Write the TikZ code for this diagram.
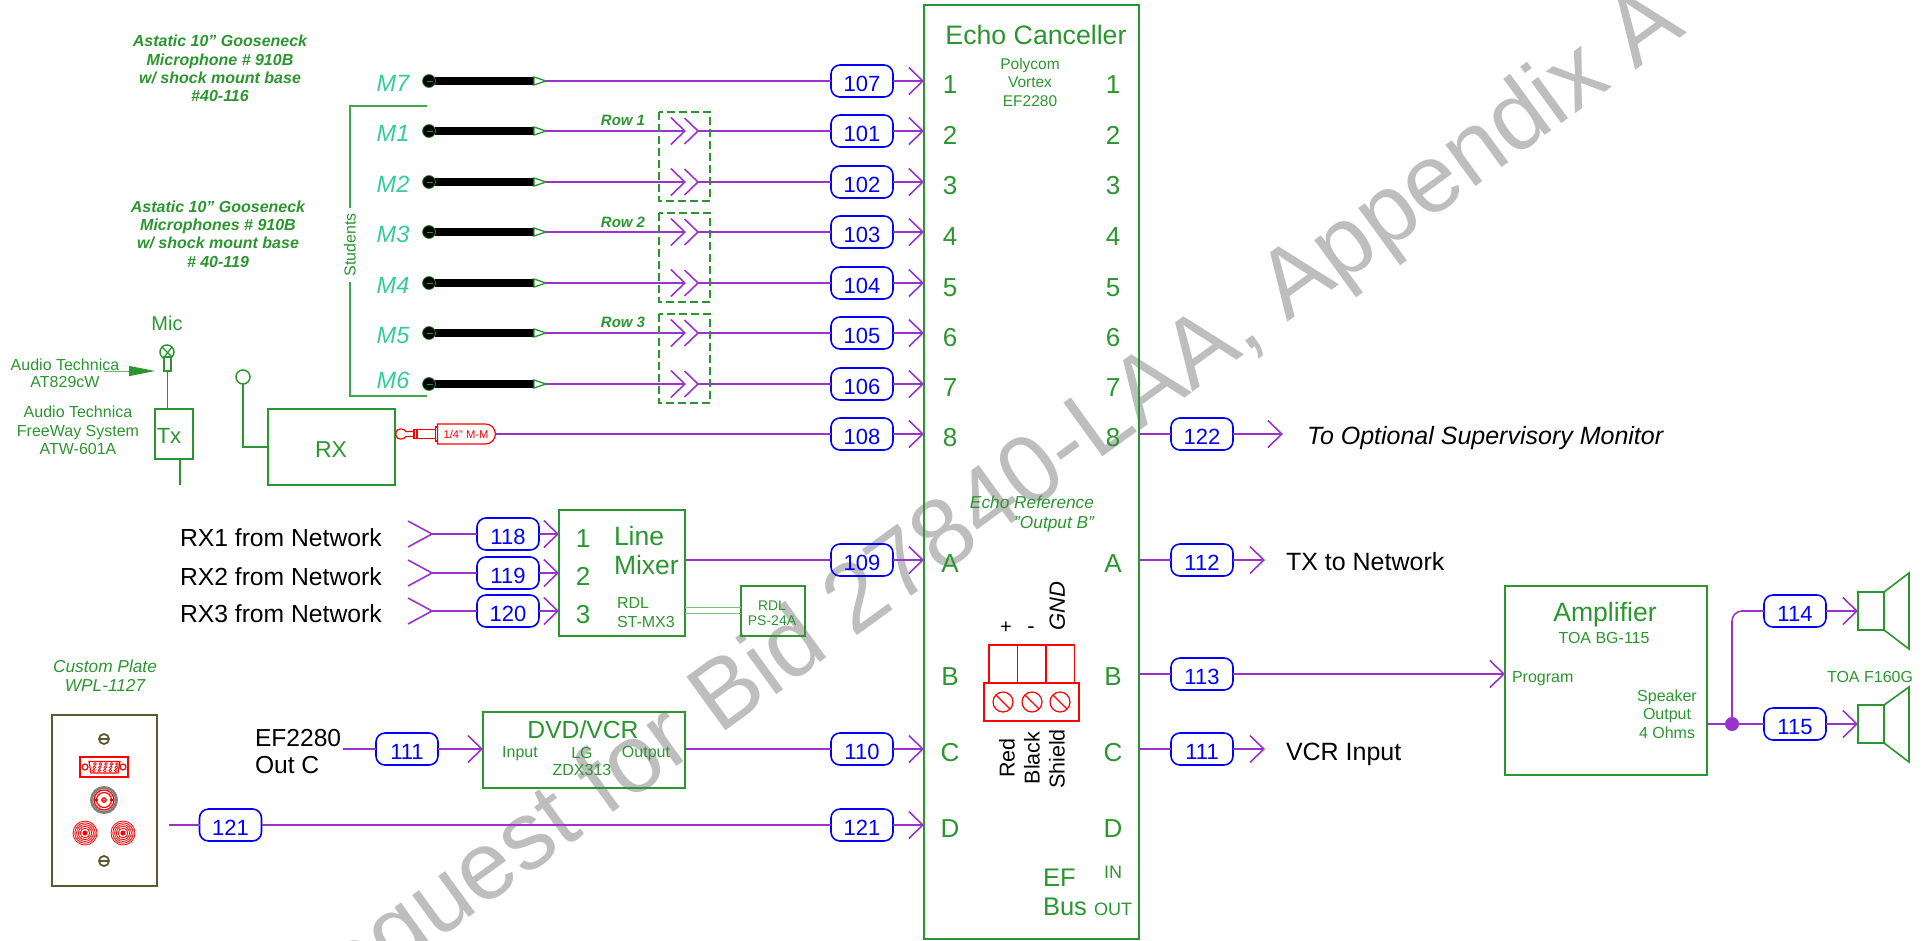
\documentclass[tikz,border=0pt]{standalone}
\usepackage{fontspec}
\setmainfont{Liberation Sans}
\usetikzlibrary{arrows.meta,shapes.misc}
\definecolor{grn}{HTML}{2B962F}
\definecolor{teal2}{HTML}{33CC99}
\definecolor{brk}{HTML}{3DA84D}
\definecolor{sigc}{HTML}{9933CC}
\definecolor{wm}{HTML}{BEBEBE}
\definecolor{olive2}{HTML}{5A5A32}
\newcommand\lab[6]{\node[txt,#2] (#1) at (#3,{#4+0.358*#5}) {\fontsize{#5}{#5}\selectfont #6};}
\newcommand\rlab[6]{\node[txt,rotate=90,#2] (#1) at ({#3+0.358*#5},#4) {\fontsize{#5}{#5}\selectfont #6};}
\newcommand\mlab[7]{\node[inner sep=0pt,outer sep=0pt,text=grn,align=center,anchor=center,font=\fontsize{#5}{#6}\selectfont,#2] (#1) at (#3,#4) {#7};}
\tikzset{
  txt/.style={inner sep=0pt,outer sep=0pt,anchor=base,text=grn},
  gbox/.style={draw=grn,line width=1.7pt,inner sep=0pt,outer sep=0pt},
  sig/.style={draw=sigc,line width=1.6pt},
  sigar/.style={sig,-{Straight Barb[length=14pt,width=27pt]}},
  tag/.style={draw=blue,line width=1.6pt,rounded corners=9pt,minimum width=62pt,minimum height=32pt,inner sep=0pt,outer sep=0pt,text=blue,text height=20.8pt,text depth=0pt,font=\fontsize{22}{22}\selectfont},
  micend/.style={circle,fill=black,draw=grn,line width=.7pt,minimum size=13pt,inner sep=0pt,outer sep=0pt},
  tiptri/.style={draw=grn,fill=white,line width=1.3pt},
  dbox/.style={draw=grn,line width=1.5pt,dash pattern=on 8pt off 4pt},
  rd/.style={draw=red,line width=1.2pt},
  ol/.style={draw=olive2,line width=1.8pt},
}
\begin{document}
\begin{tikzpicture}[x=1pt,y=-1pt]
\path[use as bounding box] (0,0) rectangle (1932,940);
\clip (0,0) rectangle (1932,940);
% watermark
\node[inner sep=0pt,anchor=base west,rotate=36,text=wm,font=\fontsize{96.5}{96.5}\selectfont] (wmark) at (294,1045) {Request for Bid 27840-LAA, Appendix A};

% main boxes
\node[gbox,minimum width=215pt,minimum height=934pt] (ec) at (1031.5,472) {};
\node[gbox,minimum width=202pt,minimum height=189pt] (amp) at (1606,680.5) {};
\node[gbox,minimum width=126pt,minimum height=126pt] (mix) at (622,573) {};
\node[gbox,minimum width=64pt,minimum height=50pt] (psu) at (773,611) {};
\node[gbox,minimum width=202pt,minimum height=76pt] (dvd) at (584,750) {};
\node[gbox,minimum width=38pt,minimum height=50pt] (tx) at (174,434) {};
\node[gbox,minimum width=127pt,minimum height=76pt] (rx) at (331.5,447) {};
\node[ol,minimum width=105pt,minimum height=171pt,inner sep=0pt,outer sep=0pt] (plate) at (104.5,800.5) {};

% titles
\lab{ectitle}{}{1036}{35}{26.7}{Echo Canceller}
\mlab{ecmodel}{}{1030}{82}{15.5}{18.5}{Polycom\\Vortex\\EF2280}
\lab{er1}{}{1032}{502}{17.3}{\itshape Echo Reference}
\lab{er2}{anchor=base east}{1094}{522}{17.3}{\itshape "Output B"}

% port numbers
\foreach \t/\y in {1/84,2/135,3/185,4/236,5/287,6/337,7/387,8/437,A/563,B/676,C/752,D/828}{
  \lab{pl\t}{}{950}{\y}{26}{\t}
  \lab{pr\t}{}{1113}{\y}{26}{\t}
}
\lab{efa}{anchor=base west}{1043}{877}{25.5}{EF}
\lab{efb}{anchor=base west}{1043}{906}{25.5}{Bus}
\lab{efin}{}{1113}{872}{18}{IN}
\lab{efout}{}{1113}{909}{18}{OUT}

% microphones
\foreach \n/\y/\tg/\tl in {m7/81/t107/107,m1/131/t101/101,m2/182/t102/102,m3/232/t103/103,m4/283/t104/104,m5/333/t105/105,m6/384/t106/106}{
  \node[tag] (\tg) at (862,\y) {\tl};
  \draw[sigar] (\tg) -- (\tg -| ec.west);
  \coordinate (\n b) at (534,\y);
  \coordinate (\n t) at (546,\y);
  \draw[line width=8pt,black] (429,\y) -- (\n b);
  \node[micend] (\n h) at (429,\y) {};
  \draw[draw=grn,line width=.8pt] (427,\y) -- (433,\y);
  \draw[tiptri] (534,\y-4) -- (\n t) -- (534,\y+4) -- cycle;
}
\lab{lm7}{text=teal2}{393}{83}{23.5}{\itshape M7}
\lab{lm1}{text=teal2}{393}{133}{23.5}{\itshape M1}
\lab{lm2}{text=teal2}{393}{184}{23.5}{\itshape M2}
\lab{lm3}{text=teal2}{393}{234}{23.5}{\itshape M3}
\lab{lm4}{text=teal2}{393}{285}{23.5}{\itshape M4}
\lab{lm5}{text=teal2}{393}{335}{23.5}{\itshape M5}
\lab{lm6}{text=teal2}{393}{380}{23.5}{\itshape M6}
\draw[sig] (m7t) -- (t107);
\foreach \n/\tg in {m1/t101,m2/t102,m3/t103,m4/t104,m5/t105,m6/t106}{
  \coordinate (\n x) at (686,0 |- \n t);
  \coordinate (\n y) at (698,0 |- \n t);
  \draw[sigar] (\n t) -- (\n t -| \n x);
  \draw[sig,line join=miter] ([shift={(-13.5,-13)}]\n t -| \n y) -- (\n t -| \n y) -- ([shift={(-13.5,13)}]\n t -| \n y);
  \draw[sig] (\n t -| \n y) -- (\tg);
}
% dashed pairs
\draw[dbox] (659,112) rectangle (710,201);
\draw[dbox] (659,213) rectangle (710,302);
\draw[dbox] (659,314) rectangle (710,403);
\lab{row1}{}{623}{120}{15}{\bfseries\itshape Row 1}
\lab{row2}{}{623}{222}{15}{\bfseries\itshape Row 2}
\lab{row3}{}{623}{322}{15}{\bfseries\itshape Row 3}

% students bracket
\coordinate (sa) at (427,106);
\coordinate (sb) at (427,396);
\draw[draw=brk,line width=1.3pt] (sa) -- (350,106) -- (350,396) -- (sb);
\node[fill=white,inner sep=5pt,outer sep=0pt,rotate=90,text=grn,font=\fontsize{16}{16}\selectfont] (stud) at (350,245) {Students};

% mic descriptions
\mlab{ast1}{font=\fontsize{16}{18.4}\selectfont\bfseries\itshape}{220}{68.5}{16}{18.4}{Astatic 10" Gooseneck\\Microphone \# 910B\\w/ shock mount base\\\#40-116}
\mlab{ast2}{font=\fontsize{16}{18.4}\selectfont\bfseries\itshape}{218}{234}{16}{18.4}{Astatic 10" Gooseneck\\Microphones \# 910B\\w/ shock mount base\\\# 40-119}

% wireless mic
\lab{mic}{}{167}{323}{20}{Mic}
\node[draw=grn,line width=1.5pt,circle,minimum size=14pt,inner sep=0pt,outer sep=0pt] (mich) at (167,352) {};
\draw[draw=grn,line width=1.3pt] (162,347) -- (172,357);
\draw[draw=grn,line width=1.3pt] (172,347) -- (165,356);
\node[draw=grn,line width=1.2pt,fill=white,minimum width=7pt,minimum height=14pt,inner sep=0pt,outer sep=0pt] (micb) at (167.5,364) {};
\draw[draw=grn,line width=1.6pt] (micb.south) -- (micb.south |- tx.north);
\coordinate (txo) at (180,485);
\draw[draw=grn,line width=1.6pt] (txo |- tx.south) -- (txo);
\lab{txl}{}{169}{436}{22}{Tx}
\lab{at1}{}{65}{365}{16}{Audio Technica}
\lab{at2}{}{65}{382}{16}{AT829cW}
\mlab{at3}{}{78}{430.5}{16}{18.5}{Audio Technica\\FreeWay System\\ATW-601A}
\coordinate (arra) at (104,371);
\coordinate (arrb) at (155,371);
\draw[draw=grn!70,line width=1pt,-{Triangle[length=26pt,width=10pt,color=grn]}] (arra) -- (arrb);

% RX
\node[draw=grn,line width=1.5pt,circle,minimum size=14pt,inner sep=0pt,outer sep=0pt] (ant) at (243,377) {};
\draw[draw=grn,line width=1.6pt] (ant) |- (rx.west |- 0,447);
\lab{rxl}{}{331}{449}{23}{RX}
% plug
\node[rd,rounded rectangle,rounded rectangle left arc=none,minimum width=58pt,minimum height=20pt,inner sep=0pt,outer sep=0pt,text=red,font=\fontsize{11.2}{11.2}\selectfont] (plug) at (466,434) {1/4" M-M};
\draw[rd] (plug.west) ++(1,-7) -- ++(-3,0) -- ++(0,14) -- ++(3,0);
\draw[rd] (436,429.5) -- (414,429.5) -- (414,438.5) -- (436,438.5);
\draw[rd] (417,429.5) -- (417,438.5);
\draw[rd] (414,431.5) -- (406,431.5) .. controls (404,428) and (397,428) .. (396,432) -- (396,436) .. controls (397,440) and (404,440) .. (406,436.5) -- (414,436.5);
\node[tag] (t108) at (862,434) {108};
\draw[sig] (plug) -- (t108);
\draw[sigar] (t108) -- (t108 -| ec.west);

% line mixer inputs
\foreach \tg/\tl/\y/\ty/\nn in {t118/118/534/538/1,t119/119/573/577/2,t120/120/611/614/3}{
  \node[tag] (\tg) at (508,\y) {\tl};
  \draw[sigar] (\tg) -- (\tg -| mix.west);
  \coordinate (c\tl) at (432,\y);
  \draw[sig] (c\tl) -- (\tg);
  \draw[sig] ([shift={(-24,-13)}]c\tl) -- (c\tl) -- ([shift={(-24,13)}]c\tl);
  \lab{rxn\nn}{text=black,anchor=base west}{180}{\ty}{24.7}{RX\nn\ from Network}
}
\lab{mx1}{}{583}{538}{26}{1}
\lab{mx2}{}{583}{576}{26}{2}
\lab{mx3}{}{583}{614}{26}{3}
\lab{mxa}{anchor=base west}{614}{536}{26.5}{Line}
\lab{mxb}{anchor=base west}{614}{565}{26.5}{Mixer}
\lab{mxc}{anchor=base west}{617}{603}{16}{RDL}
\lab{mxd}{anchor=base west}{617}{622}{16}{ST-MX3}
\node[tag] (t109) at (862,560) {109};
\draw[sig] (mix.east |- t109) -- (t109);
\draw[sigar] (t109) -- (t109 -| ec.west);
\draw[draw=grn!60,line width=1pt] (mix.east |- 0,607) -- (psu.west |- 0,607);
\draw[draw=grn!60,line width=1pt] (mix.east |- 0,613) -- (psu.west |- 0,613);
\lab{psa}{}{772}{605}{14}{RDL}
\lab{psb}{}{772}{620}{14}{PS-24A}

% DVD/VCR
\lab{eout1}{text=black,anchor=base west}{255}{738}{24.6}{EF2280}
\lab{eout2}{text=black,anchor=base west}{255}{765}{24.6}{Out C}
\coordinate (eo) at (343,749);
\node[tag] (t111a) at (407,749) {111};
\draw[sig] (eo) -- (t111a);
\draw[sigar] (t111a) -- (t111a -| dvd.west);
\lab{dv1}{}{583}{730}{24.7}{DVD/VCR}
\lab{dv2}{}{520}{752}{16}{Input}
\lab{dv3}{}{582}{753}{16}{LG}
\lab{dv4}{}{646}{752}{16}{Output}
\lab{dv5}{}{582}{770}{16}{ZDX313}
\node[tag] (t110) at (862,749) {110};
\draw[sig] (dvd.east |- t110) -- (t110);
\draw[sigar] (t110) -- (t110 -| ec.west);

% plate
\lab{cp1}{}{105}{666}{17.3}{\itshape Custom Plate}
\lab{cp2}{}{105}{685}{17.3}{\itshape WPL-1127}
\foreach \y in {739,861}{
  \draw[ol] (104,\y) circle[radius=5];
  \draw[ol] (99.5,\y) -- (108.5,\y);
}
\draw[rd] (80,757) rectangle (128,777);
\draw[rd] (89,761.5) -- (120,761.5) -- (118,773) -- (91,773) -- cycle;
\draw[rd] (85,767) circle[radius=3];
\draw[rd] (123,767) circle[radius=3];
\foreach \xx in {95,100.5,106,111.5,117}{
  \draw[draw=red,line width=.6pt] (\xx,764) circle[radius=1.4];
  \draw[draw=red,line width=.6pt] (\xx-.7,767.3) circle[radius=1.4];
  \draw[draw=red,line width=.6pt] (\xx-1.2,770.5) circle[radius=1.4];
}
\draw[draw=gray,line width=3pt] (104,800) circle[radius=12.5];
\draw[rd] (104,800) circle[radius=10];
\draw[rd] (104,800) circle[radius=7.5];
\draw[rd] (104,800) circle[radius=2.2];
\fill[red] (104,800) circle[radius=1];
\draw[rd] (94,800) -- (98,800);
\draw[rd] (110,800) -- (114,800);
\foreach \xx in {85,123}{
  \foreach \rr in {12,10.2,8.4,6.6,4.8}{\draw[draw=red,line width=.8pt] (\xx,833) circle[radius=\rr];}
  \fill[red] (\xx,833) circle[radius=2.6];
}
\coordinate (pl) at (169,825);
\node[tag] (t121a) at (230.5,825) {121};
\draw[sig] (pl) -- (t121a);
\node[tag] (t121b) at (862,825) {121};
\draw[sig] (t121a) -- (t121b);
\draw[sigar] (t121b) -- (t121b -| ec.west);

% terminal block
\draw[rd] (989,683) -- (989,645) -- (1074.6,645) -- (1074.6,683);
\draw[rd] (1017.5,645) -- (1017.5,683);
\draw[rd] (1046,645) -- (1046,683);
\draw[rd] (984,683) rectangle (1079,721);
\foreach \xx in {1003,1032,1060}{
  \draw[rd] (\xx,702) circle[radius=10];
  \draw[rd] (\xx-7,695) -- (\xx+7,709);
}
\lab{plus}{text=black}{1006}{626}{20}{+}
\lab{minus}{text=black}{1031}{626}{22}{-}
\rlab{gnd}{text=black}{1057}{606}{22}{\itshape GND}
\rlab{red}{text=black}{1007}{758}{21.5}{Red}
\rlab{black}{text=black}{1032}{758}{21.5}{Black}
\rlab{shield}{text=black}{1057}{759}{21.5}{Shield}

% right side
\coordinate (o122) at (1283,434);
\node[tag] (t122) at (1202,434) {122};
\draw[sig] (ec.east |- t122) -- (t122);
\draw[sigar] (t122) -- (o122);
\lab{tosup}{text=black,anchor=base west}{1307}{436}{25}{\itshape To Optional Supervisory Monitor}
\coordinate (o112) at (1265,560);
\node[tag] (t112) at (1202,560) {112};
\draw[sig] (ec.east |- t112) -- (t112);
\draw[sigar] (t112) -- (o112);
\lab{txnet}{text=black,anchor=base west}{1286}{562}{25}{TX to Network}
\node[tag] (t113) at (1202,674) {113};
\draw[sig] (ec.east |- t113) -- (t113);
\draw[sigar] (t113) -- (t113 -| amp.west);
\coordinate (o111) at (1265,749);
\node[tag] (t111b) at (1202,749) {111};
\draw[sig] (ec.east |- t111b) -- (t111b);
\draw[sigar] (t111b) -- (o111);
\lab{vcrin}{text=black,anchor=base west}{1286}{752}{25}{VCR Input}

% amplifier
\lab{am1}{}{1605}{612}{26.6}{Amplifier}
\lab{am2}{}{1604}{638}{16}{TOA BG-115}
\lab{am3}{anchor=base west}{1512}{677}{16}{Program}
\mlab{am4}{}{1667}{714}{16}{18.3}{Speaker\\Output\\4 Ohms}
\node[circle,fill=sigc,minimum size=14pt,inner sep=0pt,outer sep=0pt] (dot) at (1732,724) {};
\node[tag] (t115) at (1795,724) {115};
\node[tag] (t114) at (1795,611) {114};
\node[gbox,minimum width=26pt,minimum height=38pt] (sp1) at (1871,611) {};
\node[gbox,minimum width=26pt,minimum height=38pt] (sp2) at (1871,724) {};
\draw[sig] (amp.east |- dot) -- (dot);
\draw[sig] (dot) -- (t115);
\draw[sig,rounded corners=10pt] (dot) |- (t114);
\draw[sigar] (t114) -- (sp1);
\draw[sigar] (t115) -- (sp2);
\draw[draw=grn,line width=1.6pt] (sp1.north east) -- (1909,573) -- (1909,649) -- (sp1.south east);
\draw[draw=grn,line width=1.6pt] (sp2.north east) -- (1909,687) -- (1909,762) -- (sp2.south east);
\lab{f160}{}{1870}{677}{16}{TOA F160G}
\end{tikzpicture}
\end{document}
